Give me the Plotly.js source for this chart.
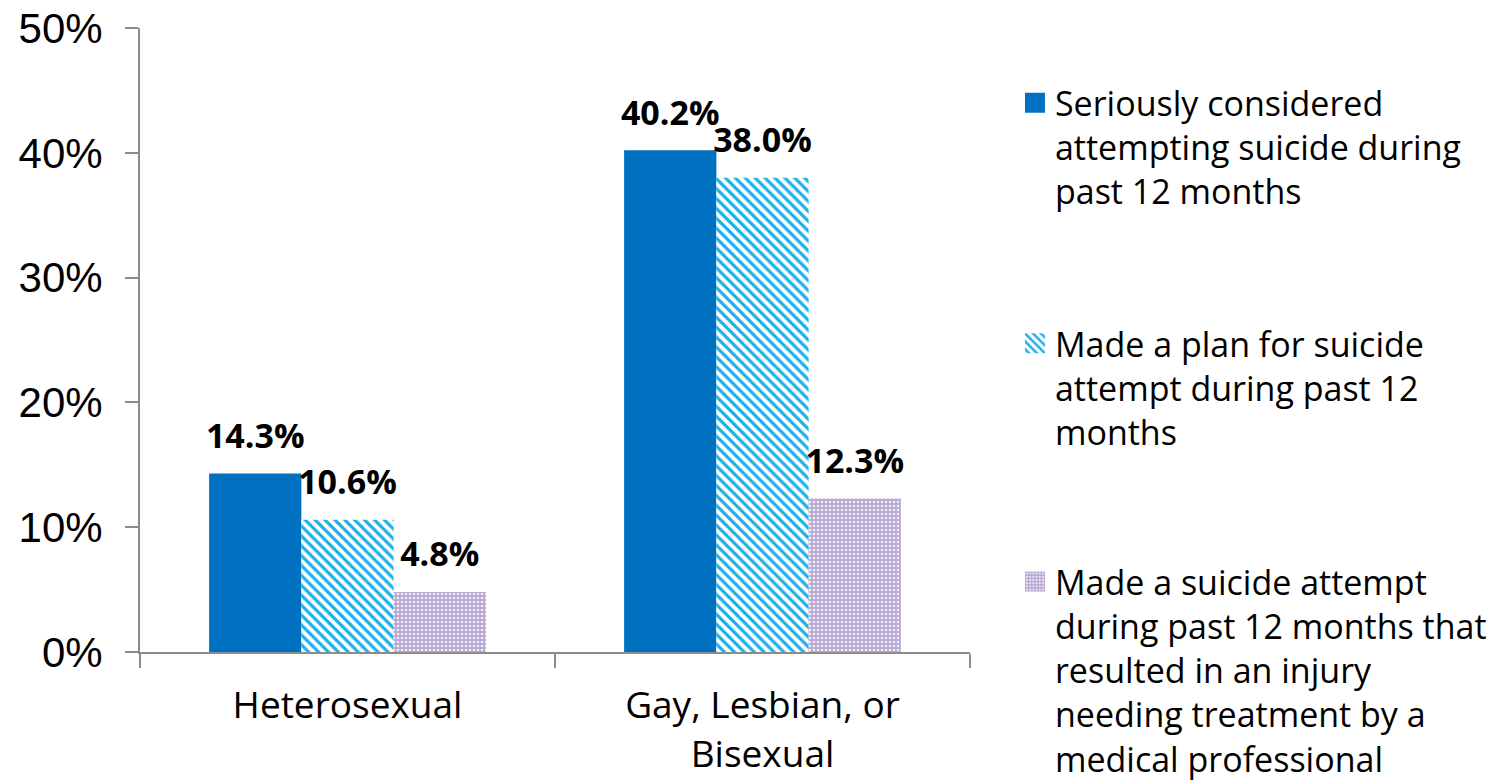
<!DOCTYPE html>
<html>
<head>
<meta charset="utf-8">
<script src="https://cdn.plot.ly/plotly-3.0.1.min.js"></script>
<style>html,body{margin:0;padding:0;background:#fff;}#chart{width:1505px;height:781px;}</style>
</head>
<body>
<div id="chart"></div>
<script>
const categories = ["Heterosexual", "Gay, Lesbian, or<br>Bisexual"];
const seriesNames = [
  "Seriously considered<br>attempting suicide during<br>past 12 months",
  "Made a plan for suicide<br>attempt during past 12<br>months",
  "Made a suicide attempt<br>during past 12 months that<br>resulted in an injury<br>needing treatment by a<br>medical professional"
];
const consideredValues = [14.3, 40.2];
const planValues = [10.6, 38.0];
const attemptValues = [4.8, 12.3];
const yTickValues = [0, 10, 20, 30, 40, 50];
const yTickLabels = ["0%", "10%", "20%", "30%", "40%", "50%"];

const labelFont = {family: "Open Sans, sans-serif", size: 34, color: "#000", weight: "bold"};
const fmt = v => v.toFixed(1) + "%";
const allValues = [consideredValues, planValues, attemptValues];

const traces = [
  {
    type: "bar", x: categories, y: consideredValues, name: seriesNames[0], legend: "legend",
    marker: {color: "#0070C0", line: {width: 0}}
  },
  {
    type: "bar", x: categories, y: planValues, name: seriesNames[1], legend: "legend2",
    marker: {color: "#ffffff", line: {width: 0},
      pattern: {shape: "\\", fgcolor: "#1AAFEA", bgcolor: "#ffffff", size: 7, solidity: 0.45, fillmode: "replace"}}
  },
  {
    type: "bar", x: categories, y: attemptValues, name: seriesNames[2], legend: "legend3",
    marker: {color: "#B7A6D2", line: {width: 0},
      pattern: {shape: ".", fgcolor: "#F2EEF7", bgcolor: "#B7A6D2", size: 4, solidity: 0.35, fillmode: "replace"}}
  }
];
// value labels as grouped scatter text
allValues.forEach(vals => {
  traces.push({
    type: "scatter", mode: "markers+text", x: categories, y: vals, showlegend: false,
    text: vals.map(fmt), textposition: "top center", textfont: labelFont,
    marker: {size: 26, opacity: 0}, cliponaxis: false, hoverinfo: "skip"
  });
});

const legendBase = {
  xref: "container", yref: "container", xanchor: "left", yanchor: "top",
  font: {family: "Open Sans, sans-serif", size: 34, color: "#000"},
  valign: "top", itemwidth: 30, bgcolor: "rgba(0,0,0,0)"
};

const layout = {
  width: 1505, height: 781,
  margin: {l: 140, r: 535, t: 28, b: 129},
  paper_bgcolor: "#fff", plot_bgcolor: "#fff",
  barmode: "group", bargap: 0.333, bargroupgap: 0,
  scattermode: "group", scattergap: 0.333,
  showlegend: true,
  legend: Object.assign({}, legendBase, {x: 0.6744, y: 0.905}),
  legend2: Object.assign({}, legendBase, {x: 0.6744, y: 0.597}),
  legend3: Object.assign({}, legendBase, {x: 0.6744, y: 0.292}),
  xaxis: {
    type: "category", range: [-0.5, 1.5],
    showline: true, linecolor: "#8c8c8c", linewidth: 2,
    ticks: "outside", tickson: "boundaries", ticklen: 14, tickwidth: 2, tickcolor: "#8c8c8c",
    ticklabelstandoff: 20,
    tickfont: {family: "Open Sans, sans-serif", size: 37, color: "#000"},
    showgrid: false, zeroline: false, fixedrange: true
  },
  yaxis: {
    range: [0, 50], tickvals: yTickValues, ticktext: yTickLabels,
    showline: true, linecolor: "#8c8c8c", linewidth: 2,
    ticks: "outside", ticklen: 13, tickwidth: 2, tickcolor: "#8c8c8c",
    ticklabelstandoff: 14,
    tickfont: {family: "Liberation Sans, Arial, sans-serif", size: 42, color: "#000"},
    showgrid: false, zeroline: false, fixedrange: true
  }
};

Plotly.newPlot("chart", traces, layout, {displayModeBar: false, staticPlot: true}).then(gd => {
  gd.querySelectorAll(".legendpoints path").forEach(p => {
    p.setAttribute("d", "M10,10H-10V-10H10Z");
  });
});
</script>
</body>
</html>
